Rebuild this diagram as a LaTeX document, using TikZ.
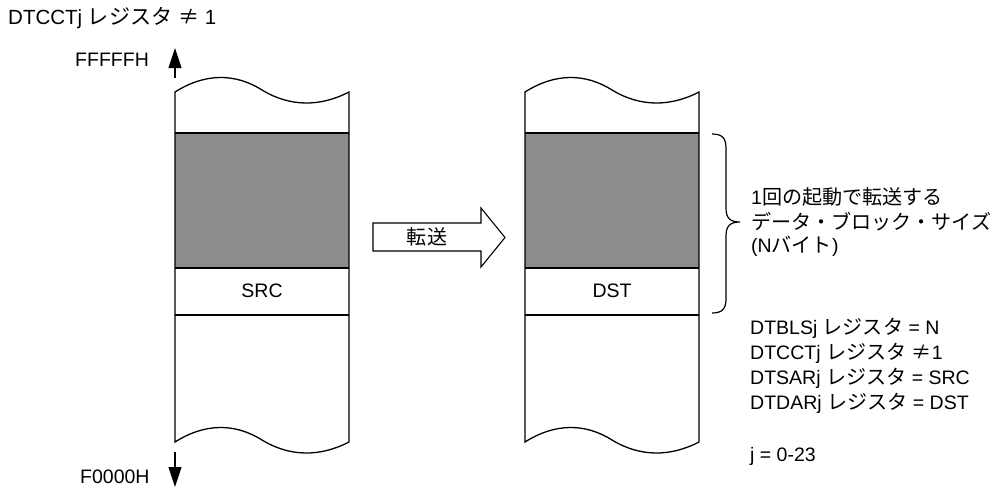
\documentclass[tikz,border=0pt]{standalone}
\usepackage{fontspec}
\setmainfont{Liberation Sans}
\newfontfamily\jp{Noto Sans CJK JP}[Scale=1.03]
\usetikzlibrary{arrows.meta}
\definecolor{blockgray}{RGB}{140,140,140}
\begin{document}
\begin{tikzpicture}[x=1pt,y=-1pt,
  lbl/.style={font=\fontsize{19.5}{24}\selectfont,inner sep=0pt},
  biglbl/.style={font=\fontsize{20.5}{24}\selectfont,inner sep=0pt},
  memline/.style={line width=1.3pt,black},
  addrarrow/.style={line width=1.1pt,-{Triangle[width=13pt,length=20pt]}},
  blockarrow/.style={line width=1.1pt,fill=white},
  bracestyle/.style={line width=1.2pt}]
\useasboundingbox (0,0) rectangle (1001,488);

% memory columns
\foreach \dx/\nm/\txt in {0/src/SRC,350/dst/DST}{
  \begin{scope}[xshift=\dx]
    \fill[blockgray] (175,133) rectangle (349,268);
    \draw[memline] (175,133) -- (349,133);
    \draw[memline] (175,268) -- (349,268);
    \draw[memline] (175,315) -- (349,315);
    \draw[memline] (175,92) .. controls (205,73) and (235,73) .. (262,90)
        .. controls (290,107) and (320,107) .. (349,92) -- (349,442)
        .. controls (320,457) and (290,457) .. (262,440)
        .. controls (235,423) and (205,423) .. (175,442) -- cycle;
    \node[lbl] (\nm) at (262,291) {\txt};
  \end{scope}
}

% coordinates for address arrows
\coordinate (upS) at (175,78);
\coordinate (upE) at (175,48);
\coordinate (dnS) at (175,452);
\coordinate (dnE) at (175,487);
\draw[addrarrow] (upS) -- (upE);
\draw[addrarrow] (dnS) -- (dnE);

\node[biglbl,anchor=west] (title) at (8,18) {DTCCTj {\jp レジスタ} {\jp ≠} 1};
\node[lbl,anchor=west] (ftop) at (75,60) {FFFFFH};
\node[lbl,anchor=west] (fbot) at (80,477) {F0000H};

% block arrow
\draw[blockarrow] (373,223) -- (481,223) -- (481,208) -- (505,237.5)
   -- (481,267) -- (481,251) -- (373,251) -- cycle;
\node[lbl] (xfer) at (427,237) {\jp 転送};

% brace
\draw[bracestyle] (712,134) .. controls (722,134) and (726,138) .. (726,148)
  -- (726,208) .. controls (726,218) and (730,222) .. (740,222)
  .. controls (730,222) and (726,226) .. (726,236)
  -- (726,299) .. controls (726,309) and (722,313) .. (712,313);

\node[lbl,anchor=west] (b1) at (751,197) {1{\jp 回の起動で転送する}};
\node[lbl,anchor=west] (b2) at (751,222) {\jp データ・ブロック・サイズ};
\node[lbl,anchor=west] (b3) at (751,246) {(N{\jp バイト})};

\node[lbl,anchor=west] (r1) at (750,328) {DTBLSj {\jp レジスタ} = N};
\node[lbl,anchor=west] (r2) at (750,353) {DTCCTj {\jp レジスタ} {\jp ≠}1};
\node[lbl,anchor=west] (r3) at (750,378) {DTSARj {\jp レジスタ} = SRC};
\node[lbl,anchor=west] (r4) at (750,403) {DTDARj {\jp レジスタ} = DST};
\node[lbl,anchor=west] (r5) at (750,456) {j = 0-23};
\end{tikzpicture}
\end{document}
